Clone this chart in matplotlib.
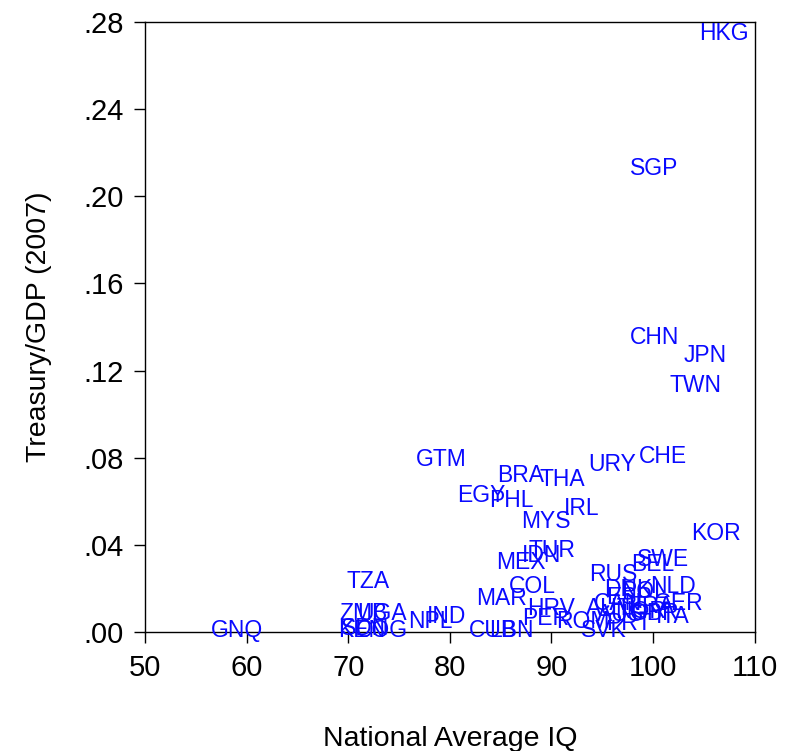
import matplotlib
matplotlib.use('Agg')
import matplotlib.pyplot as plt
from matplotlib.ticker import FuncFormatter
# ------------------------------ #

plt.rcParams['font.family'] = ['Liberation Sans', 'DejaVu Sans']

countries = [
	'HKG', 'SGP', 'CHN', 'JPN', 'TWN', 'GTM', 'CHE', 'URY', 'BRA', 'THA',
	'EGY', 'PHL', 'IRL', 'MYS', 'KOR', 'TUR', 'IDN', 'MEX', 'SWE', 'BEL',
	'RUS', 'TZA', 'COL', 'NLD', 'MAR', 'HRV', 'PER', 'IND', 'NPL', 'UGA',
	'ZMB', 'KEN', 'SDN', 'COG', 'GNQ', 'CUB', 'LBN', 'ROM', 'SVK', 'AUT',
	'DNK', 'POL', 'ESP', 'CAN', 'GER', 'FRA', 'NOR', 'AUS', 'GBR', 'ITA',
	'PRT',
]

nationalIQ = [
	107.0, 100.1, 100.1, 105.1, 104.2, 79.2, 101.0, 96.0, 87.0, 91.1,
	83.1, 86.1, 93.0, 89.4, 106.2, 90.0, 89.0, 87.0, 101.0, 100.0,
	96.1, 72.0, 88.1, 102.0, 85.1, 90.0, 89.4, 79.7, 78.1, 73.3,
	71.5, 71.3, 71.7, 73.3, 59.1, 84.2, 86.1, 93.1, 95.2, 95.6,
	97.6, 99.1, 97.6, 96.5, 102.5, 99.8, 98.8, 96.8, 100.2, 101.9,
	97.6,
]

treasuryGDP = [
	0.2746, 0.2126, 0.1350, 0.1267, 0.1130, 0.0790, 0.0804, 0.0771, 0.0716, 0.0698,
	0.0625, 0.0602, 0.0569, 0.0505, 0.0450, 0.0372, 0.0349, 0.0317, 0.0331, 0.0308,
	0.0266, 0.0230, 0.0211, 0.0207, 0.0152, 0.0106, 0.0060, 0.0073, 0.0050, 0.0083,
	0.0087, 0.0009, 0.0014, 0.0005, 0.0005, 0.0009, 0.0005, 0.0046, 0.0009, 0.0110,
	0.0193, 0.0184, 0.0156, 0.0129, 0.0129, 0.0119, 0.0092, 0.0078, 0.0083, 0.0069,
	0.0037,
]

xTicks = [50, 60, 70, 80, 90, 100, 110]
yTicks = [0.00, 0.04, 0.08, 0.12, 0.16, 0.20, 0.24, 0.28]
# ------------------------------ #

def formatNoLeadingZero(value, pos) -> str:
	return f'{value:.2f}'.lstrip('0')
# ------------------------------ #

def plotLabelScatter() -> None:
	fig = plt.figure(figsize = (7.92, 7.51), dpi = 100, facecolor = 'white')
	ax = fig.add_axes([0.183, 0.1585, 0.770, 0.8122])

	for code, iq, share in zip(countries, nationalIQ, treasuryGDP):
		ax.text(
			iq, share, code,
			ha = 'center', va = 'center',
			fontsize = 16.5, color = '#0a0aff',
			clip_on = False, zorder = 3,
		)

	ax.set_xlim(50, 110)
	ax.set_ylim(0, 0.28)
	ax.set_xticks(xTicks)
	ax.set_yticks(yTicks)
	ax.yaxis.set_major_formatter(FuncFormatter(formatNoLeadingZero))

	ax.tick_params(direction = 'out', length = 8, width = 1, labelsize = 21, colors = 'black')
	ax.tick_params(axis = 'x', pad = 8)
	ax.tick_params(axis = 'y', pad = 7)

	for spine in ax.spines.values():
		spine.set_linewidth(1)
		spine.set_color('black')

	ax.set_xlabel('National Average IQ', fontsize = 20.5)
	ax.set_ylabel('Treasury/GDP (2007)', fontsize = 20.5)
	ax.xaxis.set_label_coords(0.5, -0.154)
	ax.yaxis.set_label_coords(-0.153, 0.5)

	fig.savefig('out.png', dpi = 100, facecolor = 'white')
# ------------------------------ #

if __name__ == '__main__':
	plotLabelScatter()
# ------------------------------ #
